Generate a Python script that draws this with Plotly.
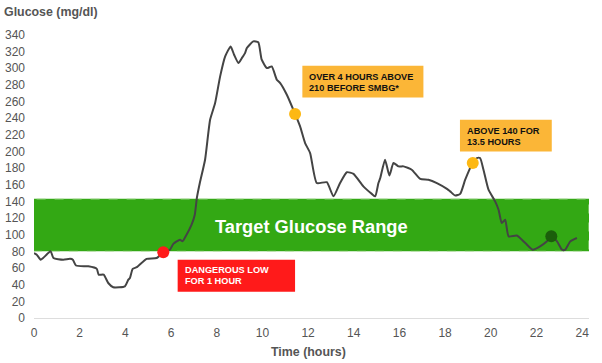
import plotly.graph_objects as go

hours = [0, 0.12, 0.29, 0.4, 0.73, 0.85, 1.28, 1.58, 1.7, 1.84, 2.38, 2.75, 2.83, 3.05, 3.25, 3.47,
         3.98, 4.13, 4.2, 4.32, 4.5, 4.93, 5.37, 5.66, 5.95, 6.1, 6.39, 6.5, 6.68, 6.9, 7.04, 7.13,
         7.26, 7.49, 7.71, 7.93, 8.15, 8.37, 8.61, 8.76, 8.95, 9.1, 9.24, 9.32, 9.6, 9.82, 9.97,
         10.2, 10.41, 10.63, 10.78, 11.07, 11.43, 11.65, 11.87, 12.09, 12.38, 12.82, 13.11, 13.4,
         13.7, 13.99, 14.42, 14.79, 14.94, 15.08, 15.16, 15.37, 15.56, 15.74, 15.96, 16.18, 16.54,
         16.91, 17.27, 17.64, 18.08, 18.22, 18.44, 18.66, 18.88, 19.21, 19.39, 19.53, 19.68, 19.9,
         20.19, 20.34, 20.48, 20.63, 20.78, 21.14, 21.51, 21.83, 22.16, 22.46, 22.65, 22.9, 23.12,
         23.26, 23.48, 23.77]
glucose = [78, 76, 70, 72, 80, 72, 70, 71, 70, 63, 62, 59, 52, 52, 42, 37,
           38, 46, 48, 59, 61, 71, 72, 79, 82, 89, 94, 92, 100, 112, 124, 144,
           162, 190, 238, 258, 290, 314, 326, 316, 306, 312, 318, 324, 332, 331, 310,
           300, 302, 286, 282, 268, 245, 230, 210, 198, 162, 163, 146, 162,
           175, 173, 158, 149, 146, 162, 168, 190, 171, 186, 182, 182, 178,
           167, 166, 162, 155, 152, 147, 149, 166, 186, 192, 192, 178, 154,
           140, 130, 114, 118, 98, 99, 90, 82, 86, 92, 98, 92, 82,
           82, 92, 96]

marker_hours = [5.66, 11.43, 19.21, 22.65]
marker_glucose = [79, 245, 186, 98]
marker_colors = ["#FF1A1A", "#FDB813", "#FDB813", "#1B5E0B"]

target_low, target_high = 80, 143
x_ticks = [0, 2, 4, 6, 8, 10, 12, 14, 16, 18, 20, 22, 24]
y_ticks = list(range(0, 341, 20))

FONT = "Liberation Sans, Arial, sans-serif"

fig = go.Figure()
fig.add_shape(type="rect", xref="x", yref="y", x0=-0.05, x1=24.3, y0=target_low, y1=target_high,
              fillcolor="#33A814", line=dict(color="#B8E0A8", width=1, dash="dash"), layer="below")
fig.add_trace(go.Scatter(x=hours, y=glucose, mode="lines",
                         line=dict(color="#444444", width=2, shape="spline", smoothing=0.5),
                         hoverinfo="skip"))
fig.add_trace(go.Scatter(x=marker_hours, y=marker_glucose, mode="markers",
                         marker=dict(color=marker_colors, size=12), hoverinfo="skip"))

fig.add_annotation(x=12.13, y=110, xref="x", yref="y", text="<b>Target Glucose Range</b>",
                   showarrow=False, font=dict(color="white", size=18.3, family=FONT))


def box(lines, x0, x1, y0, y1, tx, ty, bg, fg):
    fig.add_shape(type="rect", xref="x", yref="y", x0=x0, x1=x1, y0=y0, y1=y1,
                  fillcolor=bg, line=dict(width=0), layer="above")
    for line, yy in zip(lines, ty):
        fig.add_annotation(x=tx, y=yy, xref="x", yref="y", text="<b>%s</b>" % line,
                           showarrow=False, xanchor="left", yanchor="middle", align="left",
                           font=dict(color=fg, size=9.2, family=FONT))


box(["DANGEROUS LOW", "FOR 1 HOUR"], 6.29, 11.43, 31.6, 70, 6.52, [57.1, 44.7], "#FF1A1A", "white")
box(["OVER 4 HOURS ABOVE", "210 BEFORE SMBG*"], 11.75, 17.05, 264.8, 302.8, 11.95, [288.8, 276.4],
    "#FBB637", "#111111")
box(["ABOVE 140 FOR", "13.5 HOURS"], 18.65, 22.67, 200, 238, 18.86, [224.8, 211.6],
    "#FBB637", "#111111")

# plot area: x 34..589, y 31..318 (pixels)
PL, PR, PT, PB = 34, 589, 31, 318
PW, PH = PR - PL, PB - PT

fig.add_annotation(x=(2 - PL) / PW, y=(PB - 12) / PH, xref="paper", yref="paper",
                   yanchor="middle", xanchor="left", text="<b>Glucose (mg/dl)</b>", showarrow=False,
                   font=dict(size=12.4, color="#555555", family=FONT))
fig.add_annotation(x=(308 - PL) / PW, y=(PB - 352) / PH, xref="paper", yref="paper",
                   yanchor="middle", xanchor="center", text="<b>Time (hours)</b>", showarrow=False,
                   font=dict(size=12.4, color="#555555", family=FONT))

fig.update_layout(
    width=602, height=363, margin=dict(l=PL, r=602 - PR, t=PT, b=363 - PB),
    paper_bgcolor="white", plot_bgcolor="white", showlegend=False,
    font=dict(family=FONT, size=12, color="#555555"),
    xaxis=dict(range=[0, 24.3], tickvals=x_ticks, showgrid=False, zeroline=False,
               showline=True, linecolor="#DDDDDD", linewidth=1, ticks="", ticklen=0,
               automargin=False, ticklabelstandoff=4),
    yaxis=dict(range=[0, 344.5], tickvals=y_ticks, showgrid=False, zeroline=False,
               showline=False, ticks="", automargin=False, ticklabelstandoff=8),
)
fig.write_html("out.html", config={"displayModeBar": False},
               post_script="document.body.style.margin='0';document.body.style.overflow='hidden';")
